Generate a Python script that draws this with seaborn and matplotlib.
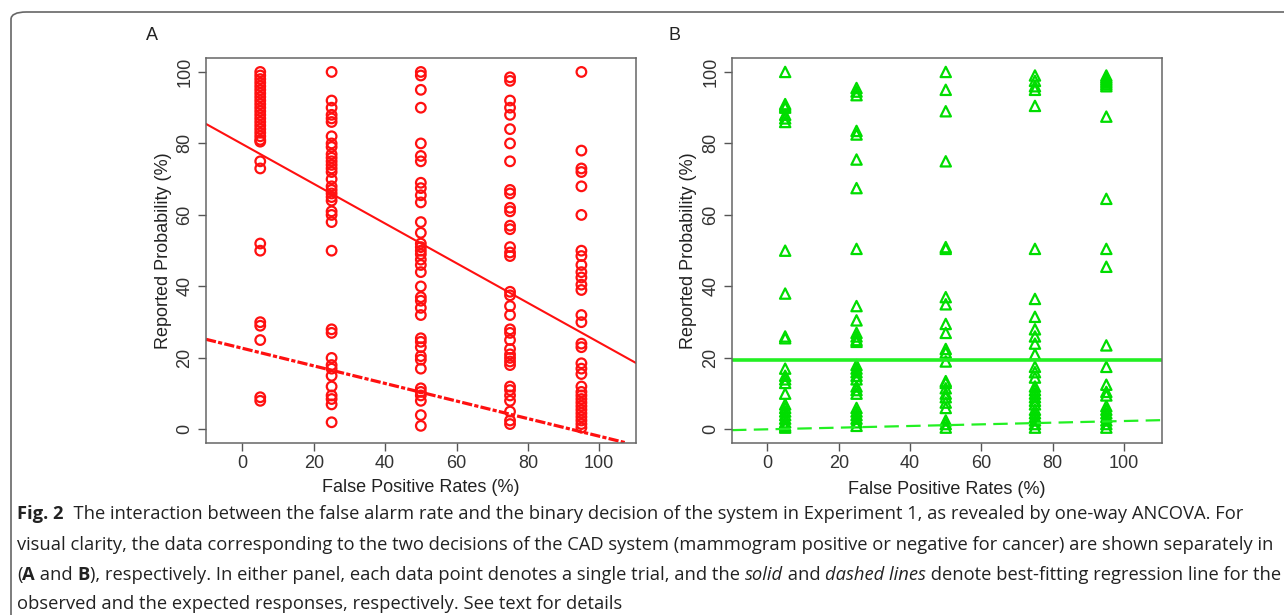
import numpy as np
import pandas as pd
import matplotlib
matplotlib.use("Agg")
import matplotlib.pyplot as plt
from matplotlib.patches import FancyBboxPatch
import seaborn as sns

# ---------------- data ----------------
fpr_levels = [5, 25, 50, 75, 95]

a_x5 = [100, 99, 98, 97, 96, 95, 94, 93, 92, 91, 90, 89, 88, 87, 86, 85, 84, 83, 82, 81, 80.5,
        75, 73, 52, 50, 30, 29, 25, 9, 8]
a_x25 = [100, 92, 90, 88, 87, 86, 82, 80, 79, 77, 76, 75, 74, 73, 72, 70, 68, 67, 66, 65, 64,
         61, 60, 58, 50, 28, 27, 20, 18, 17, 15, 12, 9.5, 8.5, 7, 2]
a_x50 = [100, 99, 95, 90, 80, 76.5, 75, 69, 67.5, 65.5, 63.5, 58, 55, 52, 51, 50, 49, 47.5, 46,
         44, 40, 37, 36, 34, 32, 25.5, 24.5, 23, 20.5, 19.5, 17, 11.5, 10.5, 9.5, 8, 4, 1]
a_x75 = [98.5, 97.5, 92, 90, 88, 84, 80, 75, 67, 66, 62, 61, 57, 56, 51, 49.5, 48.5, 38.5, 37.5,
         34.5, 32, 28, 27, 25, 22.5, 21, 20, 19, 18, 12, 11, 9.5, 8, 5, 2.5, 1.5]
a_x95 = [100, 78, 73, 72, 68, 60, 50, 48.5, 46, 44, 42.5, 40.5, 39, 32, 30, 24, 23, 18.5, 17,
         15.5, 12, 10.5, 9.5, 8.5, 7.5, 6.5, 5.5, 4.5, 3.5, 2.5, 1.5, 0.5]

b_x5 = [100, 91, 90.5, 90, 88, 87, 86, 50, 38, 26, 25.5, 17, 15, 14, 13, 10, 7, 6, 5, 4, 3,
        2, 1, 0.5]
b_x25 = [95.5, 94.5, 93.5, 83.5, 82.5, 75.5, 67.5, 50.5, 34.5, 30.5, 27, 26, 25, 24.5, 18, 17,
         16, 15, 14, 12, 11, 10, 6, 5, 4, 3, 2, 1]
b_x50 = [100, 95, 89, 75, 51, 50.5, 37, 35, 29.5, 27, 22.5, 21.5, 19, 13.5, 13, 11.5, 10, 9,
         7.5, 6, 2.5, 1.5, 0.5]
b_x75 = [99, 97.5, 96, 95, 90.5, 50.5, 36.5, 31.5, 28, 26, 24, 21, 17.5, 16, 14.5, 12, 11, 10,
         9, 8, 7, 5.5, 4.5, 3.5, 2.5, 1.5, 0.5]
b_x95 = [99, 98.5, 98, 97.5, 97, 96.5, 96, 87.5, 64.5, 50.5, 45.5, 23.5, 17.5, 12.5, 10.5, 9.5,
         6.5, 5.5, 4.5, 3.5, 2.5, 1.5, 0.5]

# regression lines: (intercept, slope)
a_observed = (79.8, -0.555)
a_expected = (22.7, -0.246)
b_observed = (19.3, 0.0)
b_expected = (0.03, 0.0232)

x_ticks = [0, 20, 40, 60, 80, 100]
y_ticks = [0, 20, 40, 60, 80, 100]
x_label = "False Positive Rates (%)"
y_label = "Reported Probability (%)"


def to_frame(cols):
    xs, ys = [], []
    for lvl, vals in zip(fpr_levels, cols):
        xs += [lvl] * len(vals)
        ys += vals
    return pd.DataFrame({"fpr": xs, "prob": ys})


df_a = to_frame([a_x5, a_x25, a_x50, a_x75, a_x95])
df_b = to_frame([b_x5, b_x25, b_x50, b_x75, b_x95])

# ---------------- style ----------------
sns.set_theme(style="white")
plt.rcParams["font.family"] = ["Liberation Sans", "DejaVu Sans"]

W, H = 1284, 615
fig = plt.figure(figsize=(W / 100, H / 100), dpi=100)


def px_axes(l, t, r, b):
    return fig.add_axes([l / W, 1 - b / H, (r - l) / W, (b - t) / H])


ax_a = px_axes(206, 58, 636, 443)
ax_b = px_axes(732, 58, 1162, 443)

RED = "#ff1010"
GREEN = "#00dd00"
GREEN_LINE = "#22f022"
TXT = "#333333"

sns.scatterplot(data=df_a, x="fpr", y="prob", ax=ax_a, marker="o", s=48,
                facecolors="none", edgecolor=RED, linewidth=1.6, legend=False)
sns.scatterplot(data=df_b, x="fpr", y="prob", ax=ax_b, marker="^", s=55,
                facecolors="none", edgecolor=GREEN, linewidth=1.6, legend=False)

ax_a.axline((0, a_observed[0]), slope=a_observed[1], color=RED, lw=1.5)
ax_a.axline((0, a_expected[0]), slope=a_expected[1], color=RED, lw=2.3,
            dashes=(3.2, 0.7, 1.3, 0.7))
ax_b.axline((0, b_observed[0]), slope=b_observed[1], color=GREEN_LINE, lw=2.6)
ax_b.axline((0, b_expected[0]), slope=b_expected[1], color=GREEN_LINE, lw=1.6,
            dashes=(6.5, 3.3))

for ax, xl, yl in ((ax_a, (-10.2, 110.3), (-3.8, 103.9)),
                   (ax_b, (-9.9, 110.6), (-3.8, 103.9))):
    ax.set_xlim(*xl)
    ax.set_ylim(*yl)
    ax.set_xticks(x_ticks)
    ax.set_yticks(y_ticks)
    ax.set_yticklabels([str(v) for v in y_ticks], rotation=90, va="center")
    ax.tick_params(axis="both", direction="out", length=6, width=1, color="#555555",
                   labelsize=13, labelcolor=TXT, pad=3, bottom=True, left=True)
    for sp in ax.spines.values():
        sp.set_color("#666666")
        sp.set_linewidth(1.1)
    ax.set_xlabel(x_label, fontsize=13, color="#222222")
    ax.set_ylabel(y_label, fontsize=13, color="#222222")
    ax.xaxis.set_label_coords(0.5, -0.115)
    ax.xaxis.label.set_va("center")
    ax.yaxis.set_label_coords(-0.1, 0.5)
    ax.yaxis.label.set_va("center")
    ax.grid(False)

ax_b.xaxis.set_label_coords(0.5, -0.12)

fig.text(152 / W, 1 - 36 / H, "A", fontsize=13, color="#222222", ha="center", va="center")
fig.text(675 / W, 1 - 36 / H, "B", fontsize=13, color="#222222", ha="center", va="center")

# outer border
border = FancyBboxPatch((11 / W, -30 / H), 1400 / W, (615 - 12 + 30) / H,
                        boxstyle="round,pad=0,rounding_size=0.012",
                        transform=fig.transFigure, fill=False,
                        edgecolor="#666666", linewidth=1.2, clip_on=False)
fig.patches.append(border)

# ---------------- caption ----------------
cap_font = ["Open Sans", "DejaVu Sans"]
cap_lines = [
    [("Fig. 2", "bold", "normal"),
     ("  The interaction between the false alarm rate and the binary decision of the system in "
      "Experiment 1, as revealed by one-way ANCOVA. For", "normal", "normal")],
    [("visual clarity, the data corresponding to the two decisions of the CAD system "
      "(mammogram positive or negative for cancer) are shown separately in", "normal", "normal")],
    [("(", "normal", "normal"), ("A", "bold", "normal"), (" and ", "normal", "normal"),
     ("B", "bold", "normal"),
     ("), respectively. In either panel, each data point denotes a single trial, and the ",
      "normal", "normal"),
     ("solid", "normal", "italic"), (" and ", "normal", "normal"),
     ("dashed lines", "normal", "italic"),
     (" denote best-fitting regression line for the", "normal", "normal")],
    [("observed and the expected responses, respectively. See text for details",
      "normal", "normal")],
]
cap_y = [514, 545, 575, 604]

renderer = fig.canvas.get_renderer()


def line_width(line, size):
    total = 0
    for txt, wt, st in line:
        t = fig.text(0, 0, txt, fontsize=size, family=cap_font, weight=wt, style=st)
        total += t.get_window_extent(renderer).width
        t.remove()
    return total


widest = max(line_width(ln, 12) for ln in cap_lines)
cap_size = 12 * (1258 / widest)

for line, yy in zip(cap_lines, cap_y):
    x = 17
    for txt, wt, st in line:
        t = fig.text(x / W, 1 - yy / H, txt, fontsize=cap_size, family=cap_font,
                     weight=wt, style=st, color="#222222", va="center", ha="left")
        x += t.get_window_extent(renderer).width

fig.savefig("out.png", dpi=100)
